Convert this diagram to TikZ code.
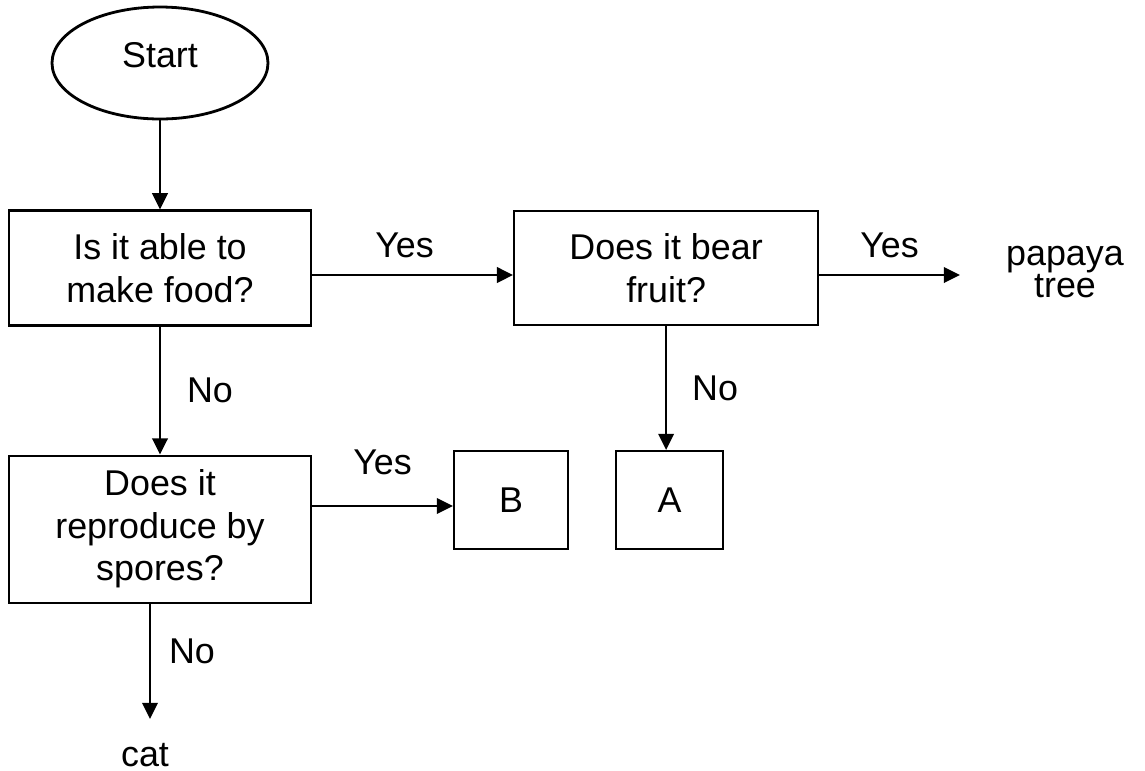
\documentclass[tikz,border=0pt]{standalone}
\usepackage{fontspec}
\setmainfont{Liberation Sans}
\usetikzlibrary{positioning,shapes.geometric,arrows.meta}

\begin{document}
\begin{tikzpicture}[>={Triangle[length=4.6pt,width=4.4pt]}, font=\fontsize{10.2}{12.1}\selectfont,
		qbox/.style={draw, line width=0.6pt, align=center, inner sep=0pt},
		flow/.style={->, line width=0.7pt}]
		\useasboundingbox (0,0) rectangle (11.45,-7.7);
		\node[draw, ellipse, line width=0.8pt, minimum width=2.16cm, minimum height=1.12cm, text depth=0.16cm] (start) at (1.60,-0.63) {Start};
		\node[qbox, minimum width=3.02cm, minimum height=1.15cm, below=0.89cm of start] (food) {Is it able to\\make food?};
		\node[qbox, minimum width=3.04cm, minimum height=1.14cm, right=2.01cm of food] (fruit) {Does it bear\\fruit?};
		\node[qbox, minimum width=3.02cm, minimum height=1.47cm, below=1.28cm of food] (spores) {Does it\\reproduce by\\spores?};
		\node[qbox, minimum width=1.14cm, minimum height=0.98cm] (B) at (5.11,-5.00) {B};
		\node[qbox, minimum width=1.07cm, minimum height=0.98cm] (A) at (6.695,-5.00) {A};
		\node[align=center, font={\fontsize{10.2}{9.2}\selectfont\lineskiplimit=-4pt\relax}] (papaya) at (10.65,-2.72) {papaya\\tree};
		\node (cat) at (1.45,-7.55) {cat};
		\coordinate (ptip) at (9.60,-2.75);
		\coordinate (cattip) at (1.50,-7.19);
		\draw[flow] (start.south) -- (food.north);
		\draw[flow] (food.east |- ptip) -- node[pos=0.46, yshift=0.30cm] (yes1) {Yes} (fruit.west |- ptip);
		\draw[flow] (fruit.east |- ptip) -- node[midway, yshift=0.30cm] (yes2) {Yes} (ptip);
		\draw[flow] (food.south) -- node[midway, xshift=0.50cm] (no1) {No} (spores.north);
		\draw[flow] (fruit.south) -- node[midway, xshift=0.49cm] (no2) {No} (A.north -| fruit.south);
		\draw[flow] ([yshift=-0.6mm]B.west -| spores.east) -- node[midway, yshift=0.44cm] (yes3) {Yes} ([yshift=-0.6mm]B.west);
		\draw[flow] (spores.south -| cattip) -- node[pos=0.41, xshift=0.42cm] (no3) {No} (cattip);
	\end{tikzpicture}
\end{document}
